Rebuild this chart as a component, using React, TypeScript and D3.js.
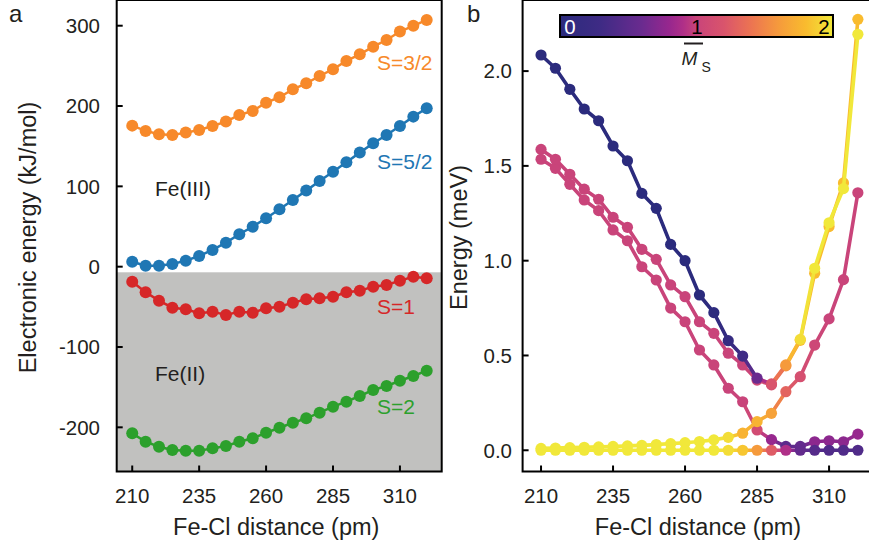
import React from 'react';
import * as d3 from 'd3';

const FONT = '"Liberation Sans", Arial, Helvetica, sans-serif';
const INK = '#231f20';

// Fe–Cl distances (pm) shared by both panels
const distance = [210, 215, 220, 225, 230, 235, 240, 245, 250, 255, 260, 265, 270, 275, 280, 285, 290, 295, 300, 305, 310, 315, 320];
const distanceTicks = [210, 235, 260, 285, 310];

// Panel a: electronic energy (kJ/mol) per spin state
const energyS32 = [175.6, 169.0, 164.9, 164.0, 166.9, 170.2, 175.2, 180.6, 188.9, 193.9, 204.2, 210.9, 220.9, 228.3, 237.4, 245.8, 256.1, 264.4, 273.9, 282.2, 292.7, 299.8, 307.2];
const energyS52 = [6.2, 1.2, 1.2, 3.4, 7.5, 13.3, 20.8, 29.9, 40.4, 49.8, 60.3, 71.5, 83.1, 94.7, 106.7, 118.3, 130.0, 142.0, 153.7, 164.0, 175.2, 186.8, 197.3];
const energyS1 = [-18.7, -31.9, -42.3, -51.1, -53.1, -58.0, -56.0, -60.1, -56.0, -57.3, -51.8, -49.8, -44.8, -40.6, -39.4, -37.4, -31.9, -29.9, -24.9, -22.8, -17.4, -12.5, -14.5];
const energyS2 = [-207.5, -217.9, -224.2, -228.3, -229.1, -229.1, -226.2, -223.3, -217.9, -213.7, -206.7, -200.5, -194.3, -188.8, -181.8, -174.3, -168.1, -161.0, -153.5, -148.6, -142.0, -136.1, -129.5];
const energyTicksA = [-200, -100, 0, 100, 200, 300];
const feIIBoundary = -7;

// Panel b: spin sublevel energies (meV) and their mean |M_S|
const level1 = [0, 0, 0, 0, 0, 0, 0, 0, 0, 0, 0, 0, 0, 0, 0, 0, 0, 0, 0, 0, 0, 0, 0];
const ms1 = [2, 2, 2, 2, 2, 2, 2, 2, 2, 2, 2, 2, 2, 1.95, 1.85, 1.6, 1.25, 0.9, 0.55, 0.45, 0.42, 0.42, 0.42];
const level2 = [0.01, 0.012, 0.014, 0.016, 0.018, 0.02, 0.023, 0.026, 0.03, 0.035, 0.04, 0.046, 0.055, 0.068, 0.09, 0.151, 0.195, 0.309, 0.388, 0.555, 0.693, 0.9, 1.358];
const ms2 = [2, 2, 2, 2, 2, 2, 2, 2, 2, 2, 2, 2, 2, 1.95, 1.75, 1.75, 1.65, 1.3, 1.15, 1.05, 1.0, 1.0, 1.0];
const level3 = [1.535, 1.487, 1.403, 1.32, 1.264, 1.162, 1.105, 0.968, 0.898, 0.75, 0.678, 0.529, 0.45, 0.327, 0.256, 0.107, 0.056, 0.02, 0.02, 0.045, 0.05, 0.045, 0.085];
const ms3 = [1, 1, 1, 1, 1, 1, 1, 1, 1, 1, 1, 1, 1, 1, 1, 1.1, 0.8, 0.5, 0.55, 0.75, 0.75, 0.75, 0.8];
const level4 = [1.587, 1.535, 1.456, 1.377, 1.324, 1.229, 1.176, 1.06, 1.007, 0.872, 0.81, 0.678, 0.617, 0.512, 0.45, 0.37, 0.345, 0.445, 0.58, 0.934, 1.18, 1.41, 2.273];
const ms4 = [1, 1, 1, 1, 1, 1, 1, 1, 1, 1, 1, 1, 1, 1, 1, 1.05, 1.15, 1.55, 1.8, 1.8, 1.8, 1.8, 1.8];
const level5 = [2.085, 2.015, 1.904, 1.8, 1.738, 1.605, 1.527, 1.355, 1.276, 1.086, 1.0, 0.819, 0.726, 0.578, 0.497, 0.38, 0.35, 0.45, 0.585, 0.96, 1.2, 1.38, 2.194];
const ms5 = [0, 0, 0, 0, 0, 0, 0, 0, 0, 0, 0, 0, 0.05, 0.15, 0.3, 0.6, 1.2, 1.6, 1.95, 2, 2, 2, 2];
const energyTicksB = [0, 0.5, 1, 1.5, 2];
const msTicks = [0, 1, 2];

// colour map for mean |M_S| (0 → navy, 1 → pink, 2 → yellow)
const msStops = [0, 0.3, 0.6, 0.86, 1.0, 1.2, 1.4, 1.6, 1.8, 2.0];
const msColors = ['#2b2b7d', '#3f2b85', '#6a2b8f', '#a5268e', '#c9447a', '#d9546c', '#ec7452', '#f59a3c', '#f9bb2e', '#f1e83a'];
const msColor = d3.scaleLinear<string>().domain(msStops).range(msColors).interpolate(d3.interpolateRgb).clamp(true);

const xA = d3.scaleLinear().domain([204.2, 325.6]).range([116.7, 441.7]);
const yA = d3.scaleLinear().domain([-255, 332]).range([471.5, 0]);
const xB = d3.scaleLinear().domain([203.6, 325.6]).range([522.6, 874]);
const yB = d3.scaleLinear().domain([-0.112, 2.375]).range([471.5, 0]);
const msScale = d3.scaleLinear().domain([0, 2]).range([570, 824]);

const TICK_FS = 20.5;
const TITLE_FS = 23.5;

function Frame({ x, y }: { x: d3.ScaleLinear<number, number>; y: d3.ScaleLinear<number, number> }) {
  const [x0, x1] = x.range();
  const [y0, y1] = y.range();
  return (
    <rect x={x0} y={y1} width={x1 - x0} height={y0 - y1} fill="none" stroke="#000" strokeWidth={2} />
  );
}

function SeriesA({ values, color }: { values: number[]; color: string }) {
  const line = d3.line<number>().x((_, i) => xA(distance[i])).y((v) => yA(v));
  return (
    <g>
      <path d={line(values) || ''} fill="none" stroke={color} strokeWidth={2.5} />
      {values.map((v, i) => (
        <circle key={i} cx={xA(distance[i])} cy={yA(v)} r={6} fill={color} />
      ))}
    </g>
  );
}

function SeriesB({ values, ms }: { values: number[]; ms: number[] }) {
  return (
    <g>
      {values.slice(1).map((v, i) => (
        <line
          key={'s' + i}
          x1={xB(distance[i])}
          y1={yB(values[i])}
          x2={xB(distance[i + 1])}
          y2={yB(v)}
          stroke={msColor((ms[i] + ms[i + 1]) / 2)}
          strokeWidth={3.6}
          strokeLinecap="round"
        />
      ))}
      {values.map((v, i) => (
        <circle key={'p' + i} cx={xB(distance[i])} cy={yB(v)} r={5.6} fill={msColor(ms[i])} />
      ))}
    </g>
  );
}

export default function App() {
  const gradStops = d3.range(0, 1.0001, 0.05);
  const [ax0, ax1] = xA.range();
  const [bx0] = xB.range();
  const bottom = yA.range()[0];

  return (
    <svg
      width={869}
      height={548}
      viewBox="0 0 869 548"
      style={{ position: 'absolute', left: 0, top: 0, background: '#fff' }}
      fontFamily={FONT}
    >
      <defs>
        <linearGradient id="msGrad" x1="0" x2="1" y1="0" y2="0">
          {gradStops.map((t) => (
            <stop key={t} offset={t} stopColor={msColor(t * 2)} />
          ))}
        </linearGradient>
        <clipPath id="clipB">
          <rect x={bx0} y={0} width={869 - bx0} height={bottom} />
        </clipPath>
      </defs>

      {/* ---------- panel a ---------- */}
      <rect x={ax0} y={yA(feIIBoundary)} width={ax1 - ax0} height={bottom - yA(feIIBoundary)} fill="#c1c1bf" />
      <SeriesA values={energyS32} color="#f7892a" />
      <SeriesA values={energyS52} color="#1f77b4" />
      <SeriesA values={energyS1} color="#d62728" />
      <SeriesA values={energyS2} color="#2ca02c" />
      <Frame x={xA} y={yA} />
      {energyTicksA.map((t) => (
        <g key={t}>
          <line x1={ax0} x2={ax0 + 6} y1={yA(t)} y2={yA(t)} stroke="#000" strokeWidth={2} />
          <text x={100} y={yA(t) + 7.4} textAnchor="end" fontSize={TICK_FS} fill={INK}>{t}</text>
        </g>
      ))}
      {distanceTicks.map((t) => (
        <g key={t}>
          <line x1={xA(t)} x2={xA(t)} y1={bottom} y2={bottom - 6} stroke="#000" strokeWidth={2} />
          <text x={xA(t)} y={502.5} textAnchor="middle" fontSize={TICK_FS} fill={INK}>{t}</text>
        </g>
      ))}
      <text x={(ax0 + ax1) / 2 - 3} y={535} textAnchor="middle" fontSize={TITLE_FS} fill={INK}>Fe-Cl distance (pm)</text>
      <text transform={`translate(36,${237.5}) rotate(-90)`} textAnchor="middle" fontSize={TITLE_FS} fill={INK}>Electronic energy (kJ/mol)</text>
      <text x={9} y={22} fontSize={24} fill={INK}>a</text>

      <text x={377} y={69.5} fontSize={21} fill="#f7892a">S=3/2</text>
      <text x={377} y={168.5} fontSize={21} fill="#1f77b4">S=5/2</text>
      <text x={155} y={195.5} fontSize={21} fill={INK}>Fe(III)</text>
      <text x={377} y={314} fontSize={21} fill="#d62728">S=1</text>
      <text x={155} y={380.5} fontSize={21} fill={INK}>Fe(II)</text>
      <text x={377} y={414} fontSize={21} fill="#2ca02c">S=2</text>

      {/* ---------- panel b ---------- */}
      <g clipPath="url(#clipB)">
        <SeriesB values={level3} ms={ms3} />
        <SeriesB values={level4} ms={ms4} />
        <SeriesB values={level2} ms={ms2} />
        <SeriesB values={level1} ms={ms1} />
        <SeriesB values={level5} ms={ms5} />
      </g>
      <Frame x={xB} y={yB} />
      {energyTicksB.map((t) => (
        <g key={t}>
          <line x1={bx0} x2={bx0 + 6} y1={yB(t)} y2={yB(t)} stroke="#000" strokeWidth={2} />
          <text x={512} y={yB(t) + 7.4} textAnchor="end" fontSize={TICK_FS} fill={INK}>{t.toFixed(1)}</text>
        </g>
      ))}
      {distanceTicks.map((t) => (
        <g key={t}>
          <line x1={xB(t)} x2={xB(t)} y1={bottom} y2={bottom - 6} stroke="#000" strokeWidth={2} />
          <text x={xB(t)} y={502.5} textAnchor="middle" fontSize={TICK_FS} fill={INK}>{t}</text>
        </g>
      ))}
      <text x={698} y={535} textAnchor="middle" fontSize={TITLE_FS} fill={INK}>Fe-Cl distance (pm)</text>
      <text transform={`translate(467,${237.5}) rotate(-90)`} textAnchor="middle" fontSize={TITLE_FS} fill={INK}>Energy (meV)</text>
      <text x={467} y={22} fontSize={24} fill={INK}>b</text>

      {/* colour bar */}
      <rect x={560} y={15} width={273} height={22} fill="url(#msGrad)" stroke="#000" strokeWidth={2} />
      {msTicks.map((t) => (
        <text key={t} x={msScale(t)} y={33.5} textAnchor="middle" fontSize={20.5} fill={t === 0 ? '#fff' : '#000'}>{t}</text>
      ))}
      <line x1={684} x2={703} y1={43.5} y2={43.5} stroke={INK} strokeWidth={2} />
      <text x={681.5} y={65} fontSize={19} fontStyle="italic" fill={INK}>M</text>
      <text x={701.5} y={71.5} fontSize={14} fill={INK}>S</text>
    </svg>
  );
}
